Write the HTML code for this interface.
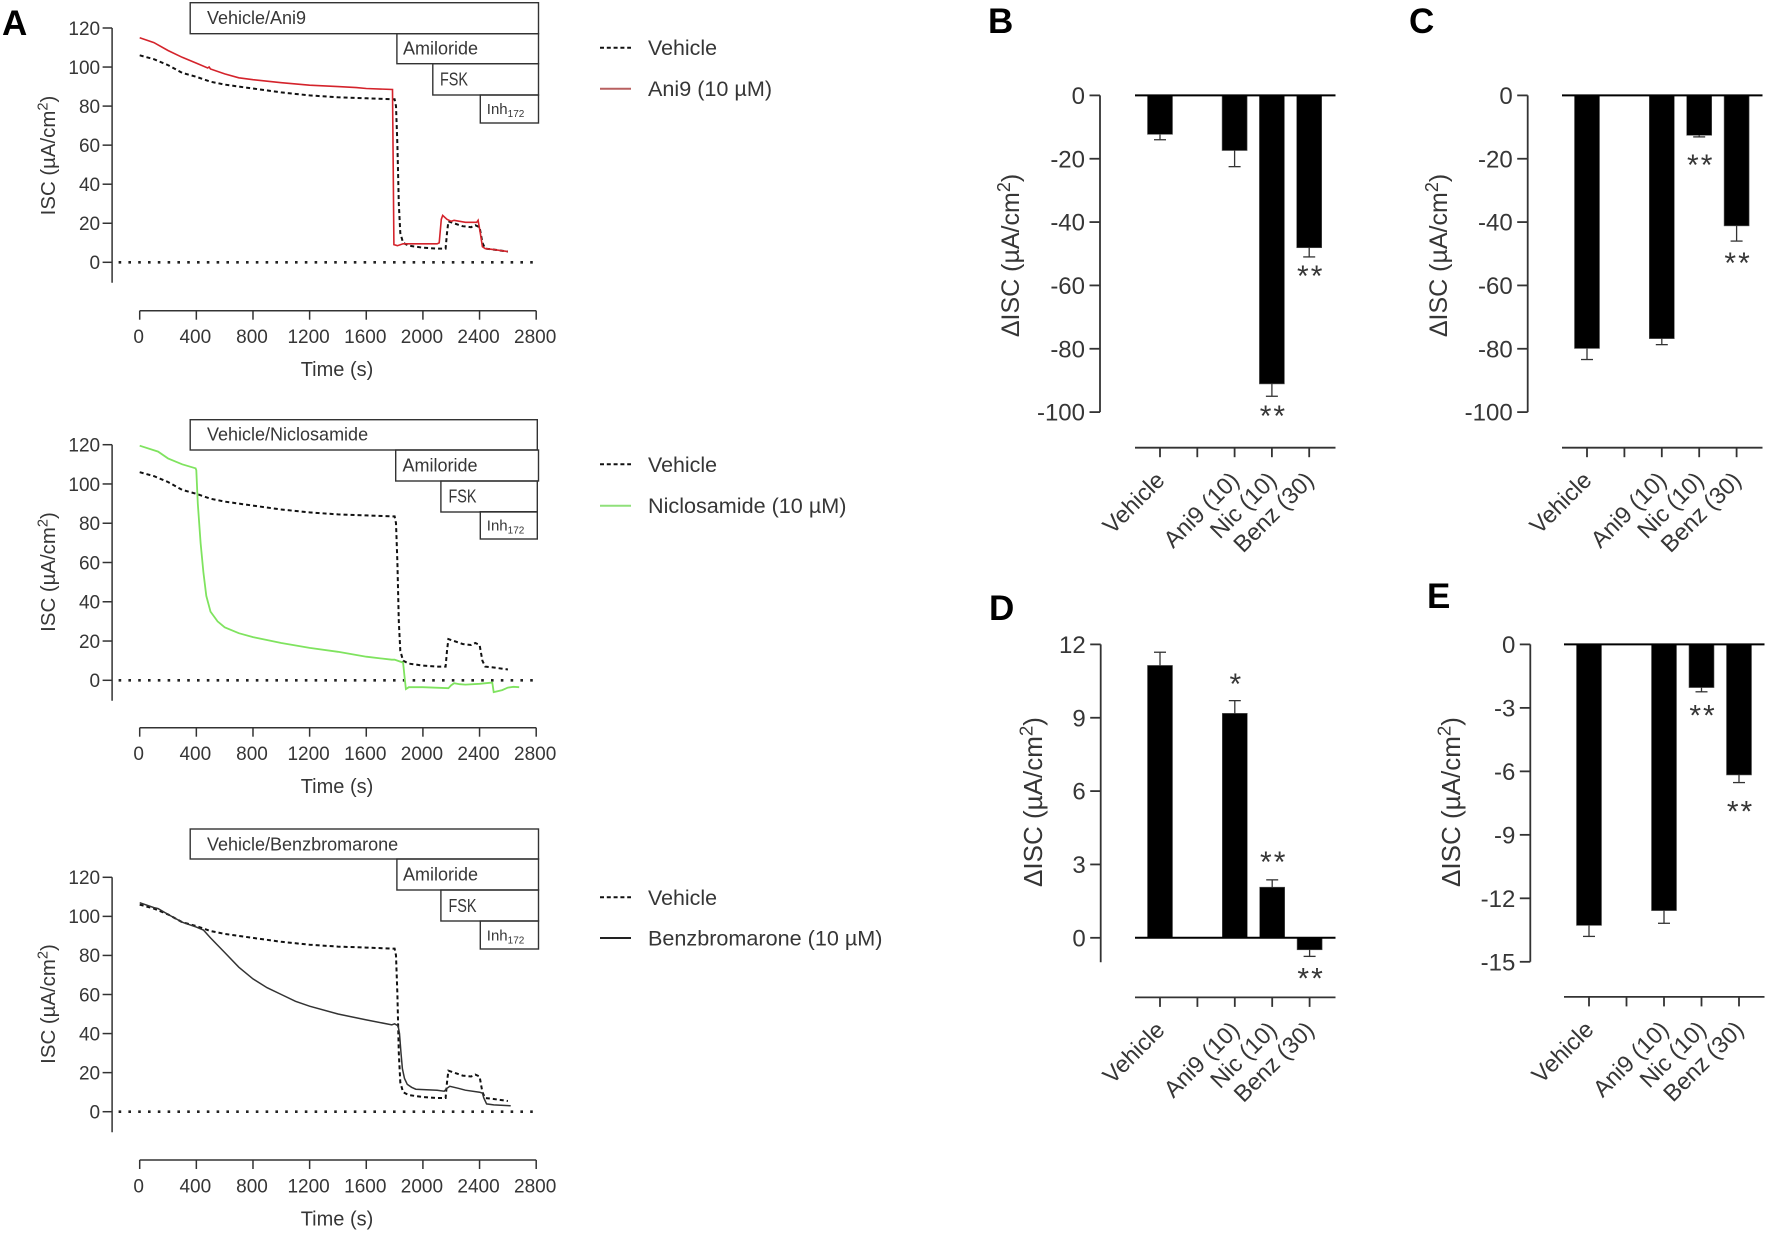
<!DOCTYPE html>
<html lang="en">
<head>
<meta charset="utf-8">
<title>Ion current traces and summary bars</title>
<style>
html,body{margin:0;padding:0;background:#fff;width:1772px;height:1240px;overflow:hidden}
svg{display:block;font-family:"Liberation Sans",sans-serif;filter:blur(0.35px)}
text{fill:#363636}
</style>
</head>
<body>
<svg id="figure" xmlns="http://www.w3.org/2000/svg" width="1772" height="1240" viewBox="0 0 1772 1240"></svg>
<script>
// ---- trace data (time in s, current in uA/cm2) ----
const timeTicks = [0,400,800,1200,1600,2000,2400,2800];
const iscTicks = [120,100,80,60,40,20,0];
const vehicleTime = [0,100,200,300,400,500,600,700,800,1000,1200,1400,1600,1790,1800,1810,1820,1830,1840,1860,1900,2000,2100,2160,2170,2180,2220,2280,2340,2370,2400,2420,2440,2500,2600];
const vehicleValue = [106,104,101,97,95,92.5,91,90,89,87,85.5,84.5,84,83.5,83.5,80,60,30,15,10,8.5,7.5,7,7,15,21,20,18.5,18,19,18,10,7,6.5,5.5];
const ani9Time = [0,100,200,300,400,480,490,500,600,700,800,1000,1200,1400,1530,1600,1785,1790,1795,1820,1860,2000,2100,2115,2130,2140,2170,2200,2220,2300,2380,2390,2405,2420,2440,2500,2600];
const ani9Value = [115,112.5,108.5,105,102,99.5,100,99,96.5,94.5,93.5,92,90.7,90,89.5,89,88.5,50,9,8.5,9.5,9.5,9.5,10,22,24,22,21,21.5,20.5,20.5,21.5,15,8,7,6.5,5.5];
const nicTime = [0,130,200,300,395,400,410,420,430,450,470,500,550,600,700,800,1000,1200,1400,1600,1780,1800,1860,1870,1880,1900,2000,2180,2200,2220,2260,2300,2400,2480,2490,2500,2560,2600,2640,2680];
const nicValue = [119.5,116.5,113,110,108,107,90,80,70,55,43,35,30,27,24,22,19,16.5,14.5,12,10.5,10.5,9,2,-4.5,-3.5,-3.5,-4,-2.5,-1.5,-2,-2.2,-1.8,-1.2,-1.2,-6,-5,-3.7,-3.3,-3.5];
const benzTime = [0,100,130,200,300,400,450,500,600,700,800,900,1000,1100,1200,1400,1600,1780,1800,1825,1835,1845,1855,1870,1890,1920,1950,2100,2150,2170,2190,2250,2300,2400,2420,2430,2450,2500,2620];
const benzValue = [107,104.5,104,101,97,94.5,93,89,81.5,74,68,63.5,60,56.5,54,50,47,44.5,45,44,40,30,22,17,14,12.5,11.5,11,10.5,12,13,12,11,10,9.5,7,4,3.5,3];

// ---- bar data ----
const barCategories = ['Vehicle','','Ani9 (10)','Nic (10)','Benz (30)'];
const panelBValues = [-12.3,null,-17.4,-91.1,-48.1];
const panelBErrors = [-14,null,-22.5,-95,-51];
const panelBStars = ['','','','**','**'];
const panelBTicks = [0,-20,-40,-60,-80,-100];
const panelCValues = [-79.9,null,-76.8,-12.6,-41.2];
const panelCErrors = [-83.4,null,-78.7,-13.1,-46];
const panelCStars = ['','','','**','**'];
const panelCTicks = [0,-20,-40,-60,-80,-100];
const panelDValues = [11.14,null,9.18,2.07,-0.49];
const panelDErrors = [11.68,null,9.7,2.37,-0.76];
const panelDStars = ['','','*','**','**'];
const panelDTicks = [12,9,6,3,0];
const panelEValues = [-13.28,null,-12.58,-2.04,-6.17];
const panelEErrors = [-13.8,null,-13.18,-2.24,-6.53];
const panelEStars = ['','','','**','**'];
const panelETicks = [0,-3,-6,-9,-12,-15];

const svgNS = 'http://www.w3.org/2000/svg';
const root = document.getElementById('figure');
function mk(tag, attrs, parent){
  const el = document.createElementNS(svgNS, tag);
  for(const k in attrs){ el.setAttribute(k, attrs[k]); }
  (parent || root).appendChild(el);
  return el;
}
function line(g,x1,y1,x2,y2,w,c){
  return mk('line',{x1:x1,y1:y1,x2:x2,y2:y2,stroke:c||'#333','stroke-width':w||1.5},g);
}
function yTitle(g, cx, cy, size, prefix){
  const t = mk('text',{'text-anchor':'middle','font-size':size,transform:'translate('+cx+','+cy+') rotate(-90)'},g);
  
  
  const a = mk('tspan',{},t);
  a.textContent = prefix + 'ISC (\u00B5A/cm';
  const b = mk('tspan',{'font-size':size*0.72,dy:-size*0.36},t);
  b.textContent = '2';
  const c = mk('tspan',{dy:size*0.36},t);
  c.textContent = ')';
  return t;
}

function drawTracePanel(p){
  const g = mk('g',{});
  
  
  const sx = t => p.x0 + (t/2800)*(p.x1-p.x0);
  const sy = v => p.y0 - (v/120)*(p.y0-p.y120);

  // y axis
  const yAxis = mk('g',{},g);
  
  
  line(yAxis,p.axisX,sy(120),p.axisX,p.yBottom);
  iscTicks.forEach(v=>{
    line(yAxis,p.axisX-9.5,sy(v),p.axisX,sy(v));
    const t = mk('text',{x:p.axisX-12,y:sy(v)+6.8,'text-anchor':'end','font-size':19},yAxis);
    
    
    t.textContent = v;
  });
  yTitle(g,p.titleX,p.titleY,20.4,'');

  // x axis
  const xAxis = mk('g',{},g);
  
  
  line(xAxis,sx(0),p.xAxisY,sx(2800),p.xAxisY);
  timeTicks.forEach(v=>{
    line(xAxis,sx(v),p.xAxisY,sx(v),p.xAxisY+9);
    const t = mk('text',{x:sx(v)-1,y:p.xAxisY+32.5,'text-anchor':'middle','font-size':19},xAxis);
    
    
    t.textContent = v;
  });
  const xt = mk('text',{x:337,y:p.xAxisY+65.5,'text-anchor':'middle','font-size':20},g);
  
  
  xt.textContent = 'Time (s)';

  // zero reference
  const zero = line(g,118.6,sy(0),539,sy(0),2.6,'#222');
  zero.setAttribute('stroke-dasharray','2.6 7.2');
  
  

  // series
  const path = (xs,ys)=>xs.map((t,i)=>(i?'L':'M')+sx(t).toFixed(1)+' '+sy(ys[i]).toFixed(1)).join(' ');
  const vLine = mk('path',{d:path(vehicleTime,vehicleValue),fill:'none',stroke:'#111','stroke-width':2,'stroke-dasharray':'4 3'},g);
  
  
  const dLine = mk('path',{d:path(p.times,p.values),fill:'none',stroke:p.color,'stroke-width':p.width},g);
  
  

  // treatment boxes
  p.boxes.forEach(b=>{
    const bg = mk('g',{},g);
    
    
    mk('rect',{x:b.x,y:b.y,width:b.r-b.x,height:b.b-b.y,fill:'none',stroke:'#333','stroke-width':1.4},bg);
    const attrs = {x:b.tx,y:b.ty,'font-size':b.sub?15:18};
    if(b.fit){ attrs.textLength = b.fit; attrs.lengthAdjust = 'spacingAndGlyphs'; }
    const t = mk('text',attrs,bg);
    const s1 = mk('tspan',{},t);
    s1.textContent = b.label;
    if(b.sub){
      const s2 = mk('tspan',{'font-size':10,dy:3},t);
      s2.textContent = b.sub;
    }
  });

  // legend
  const lg = mk('g',{},g);
  
  
  const l1 = line(lg,600,p.legY[0],631,p.legY[0],2,'#111');
  l1.setAttribute('stroke-dasharray','4 2.8');
  const t1 = mk('text',{x:648,y:p.legY[0]+7.5,'font-size':21.4},lg);
  
  
  t1.textContent = 'Vehicle';
  line(lg,600,p.legY[1],631,p.legY[1],2,p.legendColor);
  const t2 = mk('text',{x:648,y:p.legY[1]+7.5,'font-size':21.6},lg);
  
  
  t2.textContent = p.legend;
}

function drawBarPanel(p){
  const g = mk('g',{});
  
  
  const sy = v => p.yTop + (p.tickVals[0]-v)/(p.tickVals[0]-p.tickVals[p.tickVals.length-1])*(p.yEnd-p.yTop);
  const cx = i => p.xStart + i*p.step;

  // y axis
  const yAxis = mk('g',{},g);
  
  
  line(yAxis,p.axisX,p.yTop,p.axisX,p.yBottom,1.8);
  p.tickVals.forEach(v=>{
    line(yAxis,p.axisX-10.5,sy(v),p.axisX,sy(v),1.8);
    const t = mk('text',{x:p.axisX-15,y:sy(v)+8.6,'text-anchor':'end','font-size':24},yAxis);
    
    
    t.textContent = v;
  });
  yTitle(g,p.titleX,p.titleY,p.titleSize,'\u0394');

  // bars
  p.values.forEach((v,i)=>{
    if(v===null){ return; }
    const top = Math.min(sy(v),sy(0));
    const bar = mk('rect',{x:cx(i)-12.5,y:top,width:25,height:Math.abs(sy(v)-sy(0)),fill:'#000',stroke:'#555','stroke-width':0.6},g);
    
    
    const eg = mk('g',{},g);
    
    
    line(eg,cx(i),sy(v),cx(i),sy(p.errors[i]),1.3);
    line(eg,cx(i)-6,sy(p.errors[i]),cx(i)+6,sy(p.errors[i]),1.3);
    if(p.stars[i]){
      const s = mk('text',{x:cx(i)+1.5,y:sy(p.errors[i])+p.starOffset[i]+12.9,'text-anchor':'middle','font-size':30,'letter-spacing':2},g);
      
      
      s.textContent = p.stars[i];
    }
  });

  // zero line
  const z = line(g,p.xStart-25,sy(0),p.xStart+175.5,sy(0),2,'#000');
  
  

  // category axis
  const xAxis = mk('g',{},g);
  
  
  line(xAxis,p.xStart-25,p.xAxisY,p.xStart+175.5,p.xAxisY,1.8);
  barCategories.forEach((c,i)=>{
    line(xAxis,cx(i),p.xAxisY,cx(i),p.xAxisY+9.5,1.8);
    if(c){
      const X = cx(i)+6, Y = p.xAxisY+34;
      const t = mk('text',{x:X,y:Y,'text-anchor':'end','font-size':23.5,transform:'rotate(-45 '+X+' '+Y+')'},xAxis);
      
      
      t.textContent = c;
    }
  });
}

function panelLetter(ch,x,y){
  const t = mk('text',{x:x,y:y,'font-size':35,'font-weight':'bold',style:'fill:#000'});
  
  
  t.textContent = ch;
}

panelLetter('A',2,35);
panelLetter('B',988,33);
panelLetter('C',1409,33);
panelLetter('D',989,620);
panelLetter('E',1427,608);

drawTracePanel({name:'panel-a-ani9',x0:139.7,x1:536.2,y120:28,y0:262.3,yBottom:282.7,axisX:112.1,xAxisY:310.7,titleX:55,titleY:155.5,
  times:ani9Time,values:ani9Value,color:'#d4232b',width:1.6,legendColor:'#b86060',legend:'Ani9 (10 \u00B5M)',legY:[47.7,88.7],
  boxes:[{x:190.2,y:2.7,r:538.5,b:33.7,tx:207,ty:24,label:'Vehicle/Ani9'},
         {x:396.9,y:33.7,r:538.5,b:63.7,tx:403,ty:54.5,label:'Amiloride'},
         {x:432.8,y:63.7,r:538.5,b:95,tx:440,ty:85.5,label:'FSK',fit:28},
         {x:480.3,y:95,r:538.5,b:123,tx:486.8,ty:114,label:'Inh',sub:'172'}]});
drawTracePanel({name:'panel-a-niclosamide',x0:139.7,x1:536.2,y120:444.7,y0:680.3,yBottom:700.7,axisX:112.1,xAxisY:727.7,titleX:55,titleY:572,
  times:nicTime,values:nicValue,color:'#7fe35f',width:1.8,legendColor:'#8fe07a',legend:'Niclosamide (10 \u00B5M)',legY:[464.3,505.7],
  boxes:[{x:190.2,y:419.7,r:537.3,b:450,tx:207,ty:440.5,label:'Vehicle/Niclosamide'},
         {x:395.7,y:450,r:538.5,b:481,tx:402.5,ty:471.5,label:'Amiloride'},
         {x:440.9,y:481,r:537.3,b:512,tx:448.5,ty:502.5,label:'FSK',fit:28},
         {x:480.3,y:511.7,r:537.3,b:539,tx:486.8,ty:530.5,label:'Inh',sub:'172'}]});
drawTracePanel({name:'panel-a-benzbromarone',x0:139.7,x1:536.2,y120:877.3,y0:1111.7,yBottom:1132.3,axisX:112.1,xAxisY:1160,titleX:55,titleY:1004,
  times:benzTime,values:benzValue,color:'#333',width:1.5,legendColor:'#222',legend:'Benzbromarone (10 \u00B5M)',legY:[897.3,938],
  boxes:[{x:190.2,y:829,r:538.5,b:859,tx:207,ty:850.5,label:'Vehicle/Benzbromarone'},
         {x:396.9,y:859,r:538.5,b:890,tx:403,ty:880.5,label:'Amiloride'},
         {x:440.9,y:890,r:538.5,b:921,tx:448.5,ty:912,label:'FSK',fit:28},
         {x:480.3,y:921,r:538.5,b:949,tx:486.8,ty:940.5,label:'Inh',sub:'172'}]});

drawBarPanel({name:'panel-b',axisX:1100,yTop:95.4,yEnd:412.1,yBottom:412.1,tickVals:panelBTicks,xStart:1160,step:37.3,xAxisY:447.7,titleX:1019,titleY:255.5,titleSize:25,
  values:panelBValues,errors:panelBErrors,stars:panelBStars,starOffset:[0,0,0,17,16]});
drawBarPanel({name:'panel-c',axisX:1527.7,yTop:95.4,yEnd:412.1,yBottom:412.1,tickVals:panelCTicks,xStart:1587,step:37.4,xAxisY:447.7,titleX:1447,titleY:255.5,titleSize:25,
  values:panelCValues,errors:panelCErrors,stars:panelCStars,starOffset:[0,0,0,25,19]});
drawBarPanel({name:'panel-d',axisX:1100.7,yTop:644.4,yEnd:937.8,yBottom:962.2,tickVals:panelDTicks,xStart:1160,step:37.4,xAxisY:997.4,titleX:1042,titleY:802,titleSize:26,
  values:panelDValues,errors:panelDErrors,stars:panelDStars,starOffset:[0,0,-19.5,-21,19]});
drawBarPanel({name:'panel-e',axisX:1530.3,yTop:644.4,yEnd:961.8,yBottom:961.8,tickVals:panelETicks,xStart:1589,step:37.5,xAxisY:996.9,titleX:1460,titleY:802,titleSize:26,
  values:panelEValues,errors:panelEErrors,stars:panelEStars,starOffset:[0,0,0,21,26]});
</script>
</body>
</html>
